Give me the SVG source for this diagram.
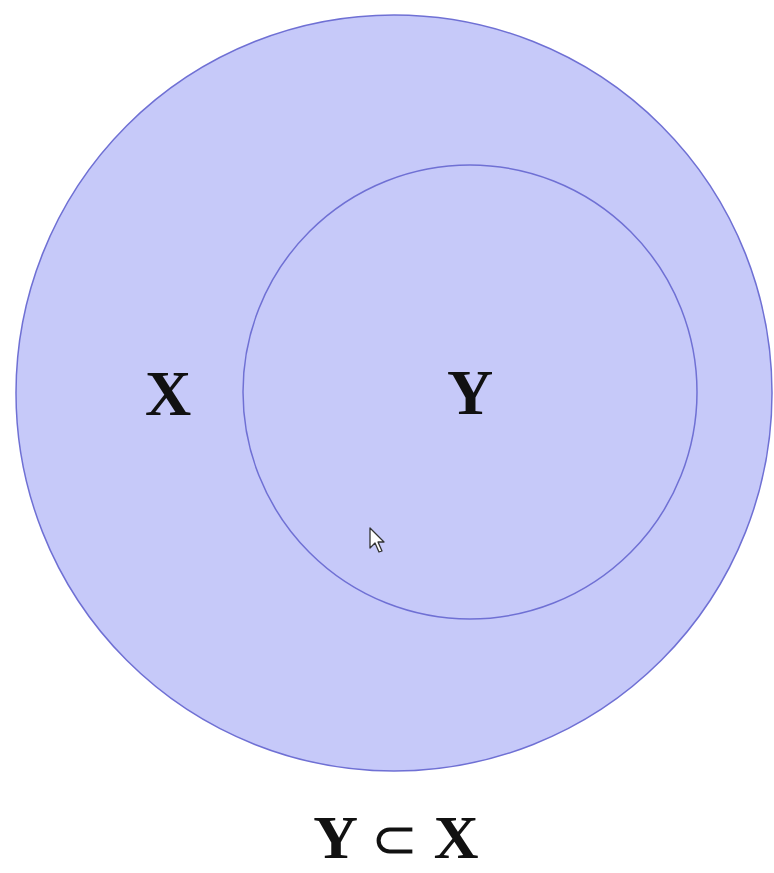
<svg xmlns="http://www.w3.org/2000/svg" width="774" height="873" viewBox="0 0 774 873">
<style>
.set{fill:#c6c9f9;stroke:#6f70d4;stroke-width:1.5}
.inner{fill:none;stroke:#6f70d4;stroke-width:1.5}
.lbl{font-family:"Liberation Serif","Times New Roman",serif;font-weight:bold;font-size:64px;fill:#111;text-anchor:middle}
.cap{font-size:62px}
.op{font-weight:normal;font-size:56px}
</style>
<rect width="774" height="873" fill="#ffffff"/>
<g id="setX"><circle class="set" cx="394" cy="393" r="378"/><text class="lbl" x="168" y="415">X</text></g>
<g id="setY"><circle class="inner" cx="470" cy="392" r="227"/><text class="lbl" x="470" y="414">Y</text></g>
<g id="connectors"></g>
<g id="cursor"><polygon points="370,528 370,548 375,543 379,552 382,551 378,542 384,542" fill="#ffffff" stroke="#333" stroke-width="1.3" stroke-linejoin="round"/></g>
<g id="caption"><text class="lbl cap" x="396" y="858">Y <tspan class="op">⊂</tspan> X</text></g>
</svg>
